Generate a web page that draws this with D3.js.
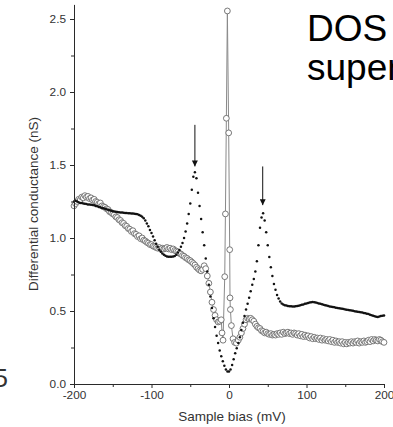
<!DOCTYPE html>
<html>
<head>
<meta charset="utf-8">
<script src="https://cdn.jsdelivr.net/npm/d3@7"></script>
<style>
  html, body { margin: 0; padding: 0; background: #fff; }
  svg { display: block; }
  text { font-family: "Liberation Sans", Arial, Helvetica, sans-serif; }
</style>
</head>
<body>
<div id="chart"></div>
<script>
// ---------------- DATA ----------------
// Sample bias grid (mV) of the dense (black dot) spectrum: -200 ... 200 every 2 mV
const blackBiasStart = -200, blackBiasStep = 2;
// Differential conductance (nS), black dots (normal / pseudogap region)
const blackG = [
  1.25,1.255,1.25,1.245,1.24,1.24,1.237,1.235,1.233,1.23,
  1.23,1.228,1.226,1.224,1.22,1.217,1.213,1.21,1.206,1.203,
  1.2,1.197,1.193,1.19,1.187,1.184,1.182,1.18,1.178,1.176,
  1.175,1.174,1.173,1.172,1.171,1.17,1.169,1.168,1.167,1.166,
  1.164,1.162,1.158,1.152,1.146,1.135,1.12,1.10,1.08,1.055,
  1.035,1.01,0.985,0.96,0.94,0.92,0.905,0.893,0.885,0.878,
  0.874,0.872,0.871,0.871,0.873,0.877,0.886,0.90,0.918,0.94,
  0.965,1.0,1.045,1.10,1.165,1.237,1.33,1.42,1.45,1.41,
  1.31,1.22,1.13,1.04,0.95,0.86,0.77,0.68,0.60,0.52,
  0.45,0.39,0.33,0.28,0.23,0.19,0.155,0.125,0.10,0.085,
  0.085,
  0.10,0.13,0.17,0.21,0.245,0.28,0.32,0.37,0.42,0.465,
  0.51,0.55,0.59,0.635,0.68,0.72,0.77,0.84,0.95,1.07,
  1.14,1.17,1.12,1.04,0.95,0.87,0.80,0.74,0.685,0.645,
  0.61,0.585,0.565,0.552,0.545,0.54,0.537,0.535,0.533,0.532,
  0.531,0.531,0.532,0.534,0.536,0.539,0.542,0.545,0.549,0.552,
  0.555,0.558,0.56,0.561,0.56,0.558,0.555,0.552,0.549,0.546,
  0.543,0.54,0.537,0.534,0.531,0.529,0.527,0.525,0.523,0.521,
  0.519,0.517,0.515,0.513,0.511,0.509,0.507,0.505,0.503,0.501,
  0.499,0.497,0.495,0.493,0.491,0.489,0.487,0.485,0.482,0.479,
  0.475,0.471,0.467,0.464,0.461,0.459,0.462,0.465,0.467,0.469
];

// Open-circle spectrum (superconducting state)
// left part: -200 ... -14 mV every 2 mV
const circleLeftStart = -200, circleStep = 2;
const circleLeftG = [
  1.22,1.235,1.25,1.265,1.26,1.28,1.275,1.29,1.28,1.285,
  1.27,1.275,1.26,1.265,1.25,1.245,1.235,1.24,1.22,1.215,
  1.21,1.2,1.195,1.18,1.175,1.165,1.16,1.145,1.14,1.125,
  1.12,1.105,1.1,1.085,1.08,1.065,1.06,1.045,1.05,1.03,
  1.025,1.01,1.015,0.995,1.0,0.985,0.98,0.97,0.965,0.955,
  0.955,0.945,0.94,0.935,0.93,0.935,0.925,0.93,0.925,0.93,
  0.935,0.925,0.93,0.92,0.925,0.915,0.91,0.905,0.895,0.89,
  0.88,0.875,0.865,0.86,0.85,0.845,0.835,0.825,0.815,0.80,
  0.79,0.78,0.775,0.785,0.81,0.79,0.74,0.69,0.63,0.56,
  0.51,0.47,0.44,0.425
];
// central zero-bias peak (explicit bias values)
const circleCenterBias = [-12, -10, -9, -7.7, -5.5, -4.6, -3.4, -2.1, -0.4, 0.9, 1.3, 1.8, 3.1, 5.2, 7.3, 9.5];
const circleCenterG    = [0.43, 0.44, 0.35, 0.30, 0.735, 1.165, 1.82, 2.555, 1.72, 0.92, 0.59, 0.51, 0.40, 0.31, 0.285, 0.28];
// right part: 12 ... 200 mV every 2 mV
const circleRightStart = 12;
const circleRightG = [
  0.30,0.32,0.35,0.38,0.41,0.44,0.45,0.445,0.45,0.44,
  0.43,0.41,0.395,0.385,0.38,0.365,0.36,0.35,0.355,0.345,
  0.34,0.345,0.335,0.34,0.335,0.345,0.34,0.35,0.34,0.355,
  0.345,0.35,0.355,0.345,0.35,0.34,0.35,0.345,0.335,0.345,
  0.33,0.34,0.325,0.335,0.325,0.33,0.315,0.325,0.31,0.32,
  0.31,0.315,0.305,0.315,0.30,0.31,0.30,0.305,0.295,0.305,
  0.29,0.30,0.285,0.295,0.285,0.29,0.28,0.29,0.275,0.285,
  0.275,0.285,0.28,0.29,0.28,0.29,0.285,0.295,0.28,0.29,
  0.285,0.295,0.285,0.29,0.30,0.29,0.305,0.295,0.305,0.30,
  0.295,0.305,0.30,0.29,0.285
];

// arrows marking the coherence-like peaks: [bias, G start, G tip]
const arrowBias  = [-44, 43.5];
const arrowFromG = [1.775, 1.49];
const arrowToG   = [1.49, 1.225];

// axes
const xTicks = [-200, -100, 0, 100, 200];
const xMinor = [-150, -50, 50, 150];
const yTicks = [0.0, 0.5, 1.0, 1.5, 2.0, 2.5];
const yMinor = [0.25, 0.75, 1.25, 1.75, 2.25];
const xLabel = "Sample bias (mV)";
const yLabel = "Differential conductance (nS)";
const titleLines = ["DOS", "super"];
const sideLetter = "5";

// ---------------- CHART ----------------
const W = 393, H = 427;
const svg = d3.select("#chart").append("svg").attr("width", W).attr("height", H)
  .style("background", "#fff");

const x = d3.scaleLinear().domain([-200, 200]).range([74, 384]);
const y = d3.scaleLinear().domain([0, 2.6]).range([384, 4.4]);

const axisColor = "#2a2a2a";
const textColor = "#333";

// build point sets
const blackPts = blackG.map((g, i) => ({b: blackBiasStart + i * blackBiasStep, g}));
const circlePts = []
  .concat(circleLeftG.map((g, i) => ({b: circleLeftStart + i * circleStep, g})))
  .concat(circleCenterG.map((g, i) => ({b: circleCenterBias[i], g})))
  .concat(circleRightG.map((g, i) => ({b: circleRightStart + i * circleStep, g})));

// circle series: connecting line + open circles
svg.append("path")
  .datum(circlePts)
  .attr("fill", "none")
  .attr("stroke", "#8a8a8a")
  .attr("stroke-width", 1)
  .attr("d", d3.line().x(d => x(d.b)).y(d => y(d.g)));

svg.append("g").selectAll("circle").data(circlePts).join("circle")
  .attr("cx", d => x(d.b)).attr("cy", d => y(d.g)).attr("r", 2.9)
  .attr("fill", "#fff").attr("stroke", "#6a6a6a").attr("stroke-width", 0.9);

// black dots
svg.append("g").selectAll("circle").data(blackPts).join("circle")
  .attr("cx", d => x(d.b)).attr("cy", d => y(d.g)).attr("r", 1.25)
  .attr("fill", "#111");

// axes
const xAxis = d3.axisBottom(x).tickValues(xTicks).tickSize(4).tickSizeOuter(0)
  .tickPadding(3).tickFormat(d => String(d));
const gx = svg.append("g").attr("transform", "translate(0,384)").call(xAxis);
gx.selectAll(".tick").filter(d => d === 200).select("text").attr("dx", "0");
const gxm = svg.append("g").attr("transform", "translate(0,384)")
  .call(d3.axisBottom(x).tickValues(xMinor).tickSize(3).tickSizeOuter(0).tickFormat(""));
gxm.select(".domain").remove();

const yAxis = d3.axisLeft(y).tickValues(yTicks).tickSize(4).tickSizeOuter(0)
  .tickPadding(4).tickFormat(d3.format(".1f"));
const gy = svg.append("g").attr("transform", "translate(74,0)").call(yAxis);
const gym = svg.append("g").attr("transform", "translate(74,0)")
  .call(d3.axisLeft(y).tickValues(yMinor).tickSize(3).tickSizeOuter(0).tickFormat(""));
gym.select(".domain").remove();

[gx, gy, gxm, gym].forEach(g => {
  g.selectAll("path,line").attr("stroke", axisColor).attr("stroke-width", 1);
  g.selectAll("text").attr("fill", textColor).style("font-size", "11.8px")
    .style("font-family", "'Liberation Sans', Arial, sans-serif");
});

// axis titles
svg.append("text")
  .attr("x", 232).attr("y", 421)
  .attr("text-anchor", "middle")
  .attr("fill", textColor).style("font-size", "13.5px")
  .text(xLabel);

svg.append("text")
  .attr("transform", "translate(38,204) rotate(-90)")
  .attr("text-anchor", "middle")
  .attr("fill", textColor).style("font-size", "13.5px")
  .text(yLabel);

// arrows
const defs = svg.append("defs");
defs.append("marker").attr("id", "ah")
  .attr("viewBox", "0 0 10 10").attr("refX", 10).attr("refY", 5)
  .attr("markerWidth", 6).attr("markerHeight", 6).attr("markerUnits", "userSpaceOnUse")
  .attr("orient", "auto")
  .append("path").attr("d", "M0,0 L10,5 L0,10 z").attr("fill", "#111");

svg.append("g").selectAll("line").data(arrowBias).join("line")
  .attr("x1", d => x(d)).attr("x2", d => x(d))
  .attr("y1", (d, i) => y(arrowFromG[i]))
  .attr("y2", (d, i) => y(arrowToG[i]))
  .attr("stroke", "#111").attr("stroke-width", 1)
  .attr("marker-end", "url(#ah)");

// big overlay text
svg.append("g").selectAll("text").data(titleLines).join("text")
  .attr("x", 307).attr("y", (d, i) => 41 + i * 39)
  .attr("fill", "#000").style("font-size", "37px")
  .text(d => d);

// partial letter at left edge
svg.append("text")
  .attr("x", 8).attr("y", 387).attr("text-anchor", "end")
  .attr("fill", textColor).style("font-size", "26px")
  .text(sideLetter);
</script>
</body>
</html>
